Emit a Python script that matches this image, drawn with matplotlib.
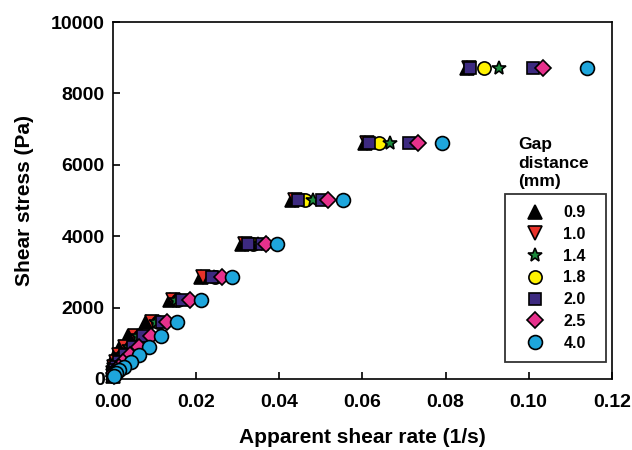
import matplotlib
matplotlib.use('Agg')
import matplotlib.pyplot as plt

plt.rcParams['font.family'] = ['Liberation Sans', 'DejaVu Sans']
plt.rcParams['font.weight'] = 'bold'

# Shear stress levels (Pa)
stress = [8700, 6600, 5000, 3780, 2850, 2200, 1600, 1200, 900, 670, 480, 340, 250, 170, 90]

# Apparent shear rate (1/s) for each gap distance
rate_09 = [0.0852, 0.0606, 0.0430, 0.0310, 0.0212, 0.0137, 0.0079, 0.0036, 0.0017, 0.0005,
           0.0002, 0.0001, 0.00005, 0.00002, 0.00001]
rate_10 = [0.0856, 0.0611, 0.0438, 0.0317, 0.0216, 0.0144, 0.0094, 0.0053, 0.0029, 0.0014,
           0.0007, 0.0002, 0.0001, 0.00005, 0.00002]
rate_14 = [0.0928, 0.0666, 0.0481, 0.0349, 0.0243, 0.0152, 0.0103, 0.0060, 0.0038, 0.0022,
           0.0010, 0.0005, 0.0002, 0.0001, 0.00005]
rate_18 = [0.0892, 0.0640, 0.0462, 0.0337, 0.0245, 0.0156, 0.0108, 0.0065, 0.0043, 0.0024,
           0.0012, 0.0005, 0.0002, 0.0001, 0.00005]
rate_20 = [0.0859, 0.0616, 0.0445, 0.0325, 0.0238, 0.0166, 0.0118, 0.0072, 0.0048, 0.0029,
           0.0014, 0.0007, 0.0004, 0.0001, 0.00005]
rate_20b = [0.1010, 0.0712, 0.0503, 0.0358]   # second run, top four levels
rate_25 = [0.1034, 0.0734, 0.0517, 0.0368, 0.0262, 0.0185, 0.0130, 0.0091, 0.0063, 0.0041,
           0.0024, 0.0014, 0.0007, 0.0002, 0.0001]
rate_40 = [0.1140, 0.0791, 0.0553, 0.0394, 0.0286, 0.0212, 0.0154, 0.0115, 0.0087, 0.0063,
           0.0043, 0.0026, 0.0014, 0.0007, 0.0002]

labels = ['0.9', '1.0', '1.4', '1.8', '2.0', '2.5', '4.0']

fig = plt.figure(figsize=(6.32, 4.5), dpi=100)
ax = fig.add_axes([0.179, 0.158, 0.789, 0.793])

kw = dict(linestyle='none', markeredgecolor='black', markeredgewidth=1.2, clip_on=False)
ax.plot(rate_09, stress, marker='^', markersize=10.5, color='black', label=labels[0], zorder=3, **kw)
ax.plot(rate_10, stress, marker='v', markersize=10, color='#e8322a', label=labels[1], zorder=3, **kw)
ax.plot(rate_14, stress, marker='*', markersize=10.5, color='#1b8a3c', label=labels[2], zorder=5, **kw)
ax.plot(rate_18, stress, marker='o', markersize=9.5, color='#fff200', label=labels[3], zorder=4, **kw)
ax.plot(rate_20, stress, marker='s', markersize=9, color='#3d2a80', label=labels[4], zorder=6, **kw)
ax.plot(rate_20b, stress[:4], marker='s', markersize=9, color='#3d2a80', zorder=6, **kw)
ax.plot(rate_25, stress, marker='D', markersize=8.5, color='#e6318c', label=labels[5], zorder=7, **kw)
ax.plot(rate_40, stress, marker='o', markersize=10, color='#1ea6dc', label=labels[6], zorder=8, **kw)

ax.set_xlim(0, 0.12)
ax.set_ylim(0, 10000)
ax.set_xticks([0, 0.02, 0.04, 0.06, 0.08, 0.10, 0.12])
ax.set_xticklabels(['0.00', '0.02', '0.04', '0.06', '0.08', '0.10', '0.12'])
ax.set_yticks([0, 2000, 4000, 6000, 8000, 10000])
ax.tick_params(direction='in', length=5, width=1.2, labelsize=14)
ax.tick_params(axis='x', pad=11)
ax.tick_params(axis='y', pad=6)
for s in ax.spines.values():
    s.set_linewidth(1.2)

ax.set_xlabel('Apparent shear rate (1/s)', fontsize=15, fontweight='bold', labelpad=12)
ax.set_ylabel('Shear stress (Pa)', fontsize=15, fontweight='bold', labelpad=12)

ax.text(0.812, 0.678, 'Gap\ndistance\n(mm)', transform=ax.transAxes, ha='left', va='top',
        fontsize=12.5, fontweight='bold', linespacing=1.3)

leg = ax.legend(loc='lower left', bbox_to_anchor=(0.786, 0.048, 0.202, 0.473), mode='expand',
                borderaxespad=0, fontsize=11.5, frameon=True, fancybox=False, edgecolor='black',
                labelspacing=0.42, handletextpad=0.55, borderpad=0.7, numpoints=1,
                markerscale=1.0, handlelength=2.4)
leg.get_frame().set_linewidth(1.3)

fig.savefig('out.png', dpi=100)
